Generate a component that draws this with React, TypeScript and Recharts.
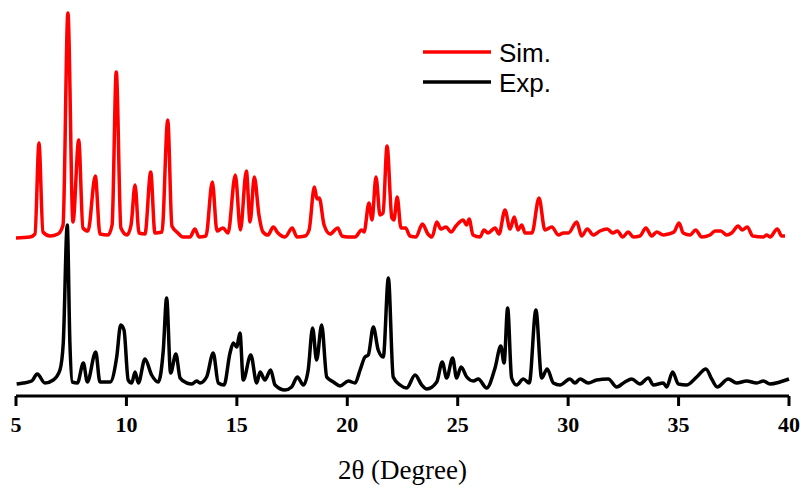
import React from 'react';
import { LineChart, Line, XAxis, YAxis, Legend } from 'recharts';

// 2θ positions (degree) and displayed intensity (offset already included for Sim.)
const simTheta = [
  5.0, 5.63, 5.86, 6.04, 6.22, 6.54, 6.9, 7.13, 7.35, 7.58, 7.84, 8.03, 8.26, 8.59, 8.8, 9.17, 9.35, 9.54,
  9.75, 10.03, 10.21, 10.39, 10.57, 10.84, 11.1, 11.29, 11.61, 11.87, 12.06, 12.33, 12.56, 12.88, 13.1,
  13.29, 13.6, 13.89, 14.1, 14.37, 14.6, 14.93, 15.16, 15.43, 15.6, 15.79, 16.0, 16.18, 16.41, 16.65,
  16.86, 17.18, 17.51, 17.72, 18.09, 18.27, 18.51, 18.63, 18.73, 18.95, 19.22, 19.57, 19.76, 20.03,
  20.35, 20.65, 20.76, 20.98, 21.12, 21.3, 21.48, 21.62, 21.8, 22.02, 22.11, 22.26, 22.43, 22.64, 22.84,
  23.11, 23.4, 23.65, 23.84, 24.05, 24.24, 24.47, 24.7, 24.92, 25.25, 25.4, 25.52, 25.69, 26.01, 26.19,
  26.37, 26.69, 26.87, 27.14, 27.37, 27.56, 27.73, 27.9, 28.05, 28.36, 28.68, 28.95, 29.26, 29.56,
  29.78, 30.01, 30.39, 30.61, 30.87, 31.14, 31.44, 31.77, 32.02, 32.23, 32.47, 32.72, 32.95, 33.25,
  33.52, 33.78, 34.01, 34.31, 34.53, 34.79, 35.02, 35.21, 35.52, 35.77, 36.05, 36.42, 36.65, 36.91,
  37.18, 37.4, 37.7, 37.88, 38.11, 38.36, 38.84, 38.99, 39.14, 39.47, 39.67, 39.82,
];
const simIntensity = [
  159, 160, 163, 254, 165, 161, 163, 172, 384, 175, 257, 169, 166, 221, 163, 162, 172, 325,
  169, 162, 172, 212, 164, 163, 225, 164, 165, 277, 171, 164, 160, 160, 168,
  160, 161, 215, 166, 169, 164, 222, 167, 226, 175, 220, 182, 165, 162, 170,
  164, 160, 169, 160, 161, 167, 210, 198, 199, 172, 163, 169, 161, 160,
  160, 167, 165, 194, 177, 220, 182, 184, 251, 179, 177, 200, 169, 169, 161,
  160, 173, 163, 160, 175, 168, 170, 165, 171, 177, 172, 178, 162, 160, 167,
  164, 169, 163, 187, 168, 180, 167, 172, 164, 164, 199, 167, 170, 162,
  164, 164, 175, 161, 168, 162, 166, 168, 164, 166, 160, 165, 160, 161,
  169, 161, 165, 162, 163, 165, 174, 164, 162, 167, 160, 162, 166, 166,
  162, 164, 171, 167, 170, 161, 160, 162, 160, 168, 161, 161,
];

const expTheta = [
  5.03, 5.33, 5.71, 5.96, 6.31, 6.69, 6.99, 7.14, 7.32, 7.44, 7.55, 7.78, 8.05, 8.23, 8.61, 8.8, 9.26,
  9.56, 9.74, 9.89, 10.08, 10.24, 10.39, 10.54, 10.84, 11.14, 11.44, 11.67, 11.82, 12.0, 12.24, 12.43,
  12.73, 12.96, 13.18, 13.33, 13.63, 13.93, 14.16, 14.42, 14.69, 14.84, 14.99, 15.14, 15.29, 15.63,
  15.9, 16.05, 16.27, 16.53, 16.73, 17.18, 17.48, 17.74, 18.01, 18.23, 18.43, 18.61, 18.84, 19.07,
  19.37, 19.67, 20.05, 20.35, 20.58, 20.8, 20.95, 21.18, 21.4, 21.63, 21.86, 22.08, 22.39, 22.69,
  23.07, 23.37, 23.6, 24.05, 24.3, 24.5, 24.77, 24.95, 25.15, 25.41, 25.71, 25.93, 26.31, 26.69,
  26.95, 27.1, 27.26, 27.44, 27.67, 27.97, 28.24, 28.54, 28.8, 29.05, 29.33, 29.63, 30.08, 30.31,
  30.54, 30.91, 31.29, 31.82, 32.2, 32.57, 32.88, 33.25, 33.63, 33.86, 34.31, 34.46, 34.73, 34.99,
  35.37, 35.82, 36.24, 36.5, 36.75, 37.25, 37.63, 38.08, 38.54, 38.84, 39.14, 39.59, 40.0,
];
const expIntensity = [
  13, 14, 16, 23, 14, 17, 27, 54, 172, 54, 15, 14, 34, 15, 45, 15, 15,
  40, 72, 67, 17, 14, 25, 14, 38, 22, 15, 47, 99, 24, 43, 19,
  14, 13, 16, 14, 20, 44, 14, 12, 44, 54, 50, 64, 17, 42,
  14, 25, 17, 27, 12, 7, 10, 20, 12, 27, 69, 37, 72, 20,
  15, 11, 16, 14, 27, 40, 42, 70, 47, 40, 119, 20, 12, 9,
  22, 12, 8, 15, 35, 19, 39, 19, 30, 20, 16, 18, 9, 29,
  51, 34, 89, 19, 12, 18, 14, 87, 19, 28, 14, 12, 18, 14,
  18, 14, 17, 18, 10, 15, 18, 13, 19, 12, 14, 10, 25, 13,
  12, 20, 28, 18, 10, 18, 14, 16, 14, 16, 13, 15, 18,
];

const xTicks = [5, 10, 15, 20, 25, 30, 35, 40];

const simData = simTheta.map((x, i) => ({ x, y: simIntensity[i] }));
const expData = expTheta.map((x, i) => ({ x, y: expIntensity[i] }));

const legendItems = [
  { name: 'Sim.', color: '#ff0000' },
  { name: 'Exp.', color: '#000000' },
];

const XrdLegend = () => (
  <svg width={170} height={70}>
    {legendItems.map((item, i) => (
      <g key={item.name}>
        <line x1={3} x2={71} y1={17 + i * 30} y2={17 + i * 30} stroke={item.color} strokeWidth={3.5} />
        <text
          x={79}
          y={27 + i * 30}
          fontFamily="Arial, 'Liberation Sans', sans-serif"
          fontSize={26}
          fill="#000"
        >
          {item.name}
        </text>
      </g>
    ))}
  </svg>
);

export default function App() {
  return (
    <div style={{ position: 'absolute', left: 0, top: 0, background: '#fff' }}>
      <LineChart width={805} height={489} margin={{ top: 7, right: 16, left: 16, bottom: 0 }}>
        <XAxis
          dataKey="x"
          type="number"
          domain={[5, 40]}
          ticks={xTicks}
          allowDuplicatedCategory={false}
          height={93}
          axisLine={{ stroke: '#000', strokeWidth: 3 }}
          tickLine={{ stroke: '#000', strokeWidth: 3 }}
          tickSize={10}
          tickMargin={10}
          tick={{
            fill: '#000',
            fontSize: 22,
            fontWeight: 'bold',
            fontFamily: "'Liberation Serif', 'Times New Roman', serif",
          }}
          label={{
            value: '2θ (Degree)',
            position: 'insideBottom',
            offset: 10,
            style: {
              fill: '#000',
              fontSize: 27,
              fontFamily: "'Liberation Serif', 'Times New Roman', serif",
            },
          }}
        />
        <YAxis type="number" domain={[1, 390]} hide allowDataOverflow />
        <Legend
          layout="vertical"
          align="center"
          verticalAlign="middle"
          content={<XrdLegend />}
          wrapperStyle={{ left: 420, top: 35, width: 170, height: 70 }}
        />
        <Line
          data={simData}
          dataKey="y"
          type="monotone"
          stroke="#ff0000"
          strokeWidth={3.5}
          dot={false}
          isAnimationActive={false}
        />
        <Line
          data={expData}
          dataKey="y"
          type="monotone"
          stroke="#000000"
          strokeWidth={3.5}
          dot={false}
          isAnimationActive={false}
        />
      </LineChart>
    </div>
  );
}
